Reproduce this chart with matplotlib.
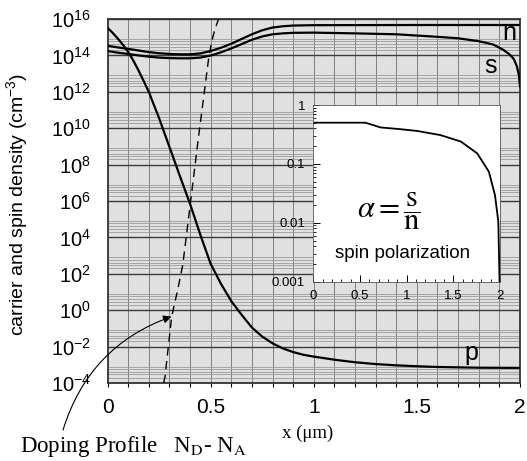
import numpy as np
import matplotlib
matplotlib.use('Agg')
import matplotlib.pyplot as plt
from matplotlib.ticker import FixedLocator, FixedFormatter, NullLocator

plt.rcParams['font.family'] = ['Liberation Sans', 'DejaVu Sans']
plt.rcParams['mathtext.fontset'] = 'custom'
plt.rcParams['mathtext.rm'] = 'Liberation Sans'
plt.rcParams['mathtext.it'] = 'Liberation Sans:italic'

# electron density n, log10(cm^-3)
x_n = [0, 0.05, 0.1, 0.15, 0.2, 0.25, 0.3, 0.35, 0.4, 0.45, 0.5, 0.55, 0.6,
       0.65, 0.7, 0.75, 0.8, 0.85, 0.9, 1.0, 1.5, 2.0]
log_n = [14.53, 14.44, 14.36, 14.27, 14.18, 14.12, 14.08, 14.06, 14.06, 14.11,
         14.24, 14.42, 14.64, 14.90, 15.16, 15.38, 15.53, 15.60, 15.64, 15.66,
         15.67, 15.67]

# spin density s
x_s = [0, 0.05, 0.1, 0.15, 0.2, 0.25, 0.3, 0.35, 0.4, 0.45, 0.5, 0.55, 0.6,
       0.65, 0.7, 0.75, 0.8, 0.85, 0.9, 1.0, 1.2, 1.4, 1.6, 1.7, 1.8, 1.87,
       1.92, 1.95, 1.97, 1.985, 1.995, 2.0]
log_s = [14.24, 14.15, 14.08, 14.00, 13.93, 13.88, 13.85, 13.84, 13.84, 13.88,
         13.99, 14.17, 14.38, 14.62, 14.86, 15.04, 15.16, 15.21, 15.24, 15.25,
         15.21, 15.16, 15.02, 14.94, 14.78, 14.60, 14.30, 14.05, 13.80, 13.40,
         12.90, 12.30]

# hole density p
x_p = [0, 0.025, 0.05, 0.075, 0.1, 0.125, 0.15, 0.175, 0.2, 0.25, 0.3, 0.35,
       0.4, 0.45, 0.5, 0.55, 0.6, 0.65, 0.7, 0.75, 0.8, 0.85, 0.9, 0.95, 1.0,
       1.1, 1.2, 1.3, 1.4, 1.5, 1.6, 1.8, 2.0]
log_p = [15.52, 15.24, 14.92, 14.58, 14.2, 13.72, 13.18, 12.6, 12.0, 10.55,
         8.98, 7.4, 5.85, 4.15, 2.55, 1.45, 0.5, -0.25, -0.95, -1.45, -1.82,
         -2.1, -2.3, -2.45, -2.55, -2.72, -2.86, -2.96, -3.03, -3.08, -3.12,
         -3.16, -3.17]

# doping profile N_D - N_A (dashed)
x_dop = [0.272, 0.279, 0.29, 0.311, 0.34, 0.365, 0.40, 0.44, 0.465, 0.49,
         0.505, 0.52, 0.537, 0.55]
log_dop = [-4.0, -3.65, -2.5, -0.35, 1.1, 2.5, 5.7, 9.4, 11.6, 13.8, 14.75,
           15.4, 15.95, 16.3]

# spin polarization alpha = s/n (inset)
x_alpha = [0, 0.3, 0.556, 0.62, 0.717, 0.93, 1.11, 1.36, 1.58, 1.755, 1.88,
           1.946, 1.982, 1.995]
log_alpha = [-0.30, -0.30, -0.30, -0.33, -0.38, -0.41, -0.44, -0.51, -0.62,
             -0.82, -1.13, -1.53, -1.98, -3.0]

y_ticks = [-4, -2, 0, 2, 4, 6, 8, 10, 12, 14, 16]
x_ticks = [0, 0.5, 1, 1.5, 2]
x_tick_labels = ['0', '0.5', '1', '1.5', '2']
inset_y_ticks = [1e-3, 1e-2, 1e-1, 1]
inset_y_labels = ['0.001', '0.01', '0.1', '1']

fig = plt.figure(figsize=(5.27, 4.61), dpi=100)
ax = fig.add_axes([0.204, 0.1692, 0.7827, 0.7896])
ax.set_facecolor('#e0e0e0')

# graph-paper grid
for i in range(1, 20):
    ax.axvline(i * 0.1, color='#808080', lw=0.7, zorder=1)
for d in y_ticks:
    ax.axhline(10.0 ** d, color='#3a3a3a', lw=1.0, zorder=1)
    if d < 16:
        for m in [2, 3, 4, 6, 8]:
            ax.axhline(m * 10.0 ** d, color='#9a9a9a', lw=0.6, zorder=1)

ax.plot(x_n, 10 ** np.array(log_n), color='black', lw=1.6, zorder=3)
ax.plot(x_s, 10 ** np.array(log_s), color='black', lw=1.6, zorder=3)
ax.plot(x_p, 10 ** np.array(log_p), color='black', lw=1.6, zorder=3)
ax.plot(x_dop, 10 ** np.array(log_dop), color='black', lw=1.0,
        dashes=(6, 4), zorder=3)

ax.set_yscale('log')
ax.set_xlim(0, 2)
ax.set_ylim(1e-4, 1e16)

ax.yaxis.set_major_locator(FixedLocator([10.0 ** d for d in y_ticks]))
ax.yaxis.set_major_formatter(FixedFormatter(['10$^{%d}$' % d for d in y_ticks]))
ax.yaxis.set_minor_locator(NullLocator())
ax.tick_params(axis='y', length=0, pad=12, labelsize=14.5)
ax.set_xticks(x_ticks)
ax.set_xticklabels(x_tick_labels)
ax.set_xticks(np.arange(0, 2.01, 0.1), minor=True)
ax.tick_params(axis='x', which='both', direction='out', length=3,
               width=0.8, pad=8, labelsize=15)

for sp in ax.spines.values():
    sp.set_color('#333333')
    sp.set_linewidth(1.3)

ax.set_ylabel('carrier and spin density (cm$^{-3}$)', fontsize=14)
ax.yaxis.set_label_coords(-0.187, 0.49)
ax.set_xlabel('x (\u03bcm)', fontsize=13.5, family='Liberation Serif')
ax.xaxis.set_label_coords(0.484, -0.115)

ax.text(1.95, 10 ** 15.23, 'n', fontsize=18, ha='center', va='center', zorder=4)
ax.text(1.855, 10 ** 13.42, 's', fontsize=18, ha='center', va='center', zorder=4)
ax.text(1.762, 10 ** -2.35, 'p', fontsize=18, ha='center', va='center', zorder=4)

ax.annotate('', xy=(0.31, 10 ** -0.35), xycoords='data',
            xytext=(63, 31), textcoords='figure pixels',
            arrowprops=dict(arrowstyle='-|>', color='black', lw=0.8,
                            shrinkA=0, shrinkB=0, mutation_scale=12,
                            connectionstyle='arc3,rad=-0.25'),
            annotation_clip=False, zorder=5)

fig.text(20 / 527, 1 - 446 / 461,
         'Doping Profile   N$_{\\mathrm{D}}$- N$_{\\mathrm{A}}$',
         fontsize=16.5, family='Liberation Serif', math_fontfamily='stix',
         ha='left', va='center')

# inset: spin polarization
ins = fig.add_axes([0.5945, 0.389, 0.3543, 0.3832])
ins.set_facecolor('white')
ins.plot(x_alpha, 10 ** np.array(log_alpha), color='black', lw=1.3)
ins.set_yscale('log')
ins.set_xlim(0, 2)
ins.set_ylim(1e-3, 1)
ins.set_yticks(inset_y_ticks)
ins.set_yticklabels(inset_y_labels)
ins.set_xticks(x_ticks)
ins.set_xticklabels(x_tick_labels)
ins.set_xticks(np.arange(0, 2.01, 0.1), minor=True)
ins.tick_params(which='major', direction='in', length=5, width=0.7,
                labelsize=9.5, pad=6, top=False, right=False)
ins.tick_params(which='minor', direction='in', length=2.5, width=0.6,
                top=False, right=False)
for sp in ins.spines.values():
    sp.set_color('#555555')
    sp.set_linewidth(0.6)

ins.text(0.405, 0.40, r'$\alpha = \dfrac{\mathrm{s}}{\mathrm{n}}$',
         transform=ins.transAxes, fontsize=22, math_fontfamily='stix',
         ha='center', va='center')
ins.text(0.478, 0.157, 'spin polarization', transform=ins.transAxes,
         fontsize=13.5, ha='center', va='center')

fig.savefig('out.png', dpi=100)
